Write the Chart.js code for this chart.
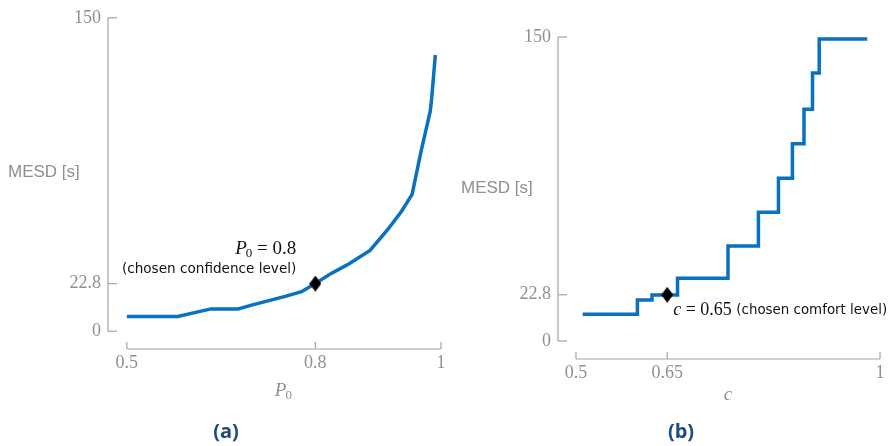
<!DOCTYPE html>
<html><head><meta charset="utf-8">
<script src="https://cdn.jsdelivr.net/npm/chart.js@4.4.1/dist/chart.umd.min.js"></script>
<style>
html,body{margin:0;padding:0;background:#fff;width:891px;height:446px;overflow:hidden;}
.box{position:absolute;top:0;height:446px;}
.cap{position:absolute;top:417px;font:bold 20px "Open Sans","Liberation Sans",sans-serif;color:#1d4a80;transform:translateX(-50%);}
</style></head>
<body>
<div class="box" style="left:0;width:450px;"><canvas id="ca"></canvas></div>
<div class="box" style="left:450px;width:441px;"><canvas id="cb"></canvas></div>
<div class="cap" style="left:226px;">(a)</div>
<div class="cap" style="left:681px;">(b)</div>
<script>
// ---- data (a) ----
const p0Values   = [0.5, 0.581, 0.634, 0.677, 0.700, 0.752, 0.778, 0.800, 0.826, 0.852, 0.887, 0.915, 0.937, 0.954, 0.968, 0.983, 0.985, 0.991];
const mesdA      = [7.1, 7.1, 10.7, 10.7, 12.6, 16.7, 18.9, 22.8, 27.8, 32.0, 38.7, 48.6, 57.3, 65.5, 85.7, 105.4, 110.9, 132.2];
const chosenA    = {x: 0.8, y: 22.8};
const xTicksA    = [0.5, 0.8, 1];
const xTickLabelsA = ['0.5', '0.8', '1'];
// ---- data (b) ----
const cValues    = [0.511, 0.601, 0.625, 0.667, 0.750, 0.800, 0.833, 0.856, 0.875, 0.889, 0.900, 0.979];
const mesdB      = [13.2, 20.2, 22.7, 31.0, 46.9, 63.5, 80.3, 97.3, 114.4, 132.2, 149, 149];
const chosenB    = {x: 0.65, y: 22.8};
const xTicksB    = [0.5, 0.65, 1];
const xTickLabelsB = ['0.5', '0.65', '1'];
// ---- shared y ticks ----
const yTicks      = [0, 22.8, 150];
const yTickLabels = ['0', '22.8', '150'];

const BLUE = '#0a70c0', GRAY = '#8f8f8f', AXIS = '#a3a3a3';
const SERIF = '"Liberation Serif","DejaVu Serif",serif';
const SANS = '"Liberation Sans","Open Sans",sans-serif';
const SANS2 = '"DejaVu Sans","Open Sans",sans-serif';

// elongated diamond marker
const dm = document.createElement('canvas');
dm.width = 12; dm.height = 16;
(function(){const g = dm.getContext('2d'); g.fillStyle = '#000'; g.beginPath();
 g.moveTo(6,0); g.lineTo(12,8); g.lineTo(6,16); g.lineTo(0,8); g.closePath(); g.fill();})();

function axesPlugin(opts){
  return {
    id: 'axesDeco',
    afterDraw(chart){
      const ctx = chart.ctx, xs = chart.scales.x, ys = chart.scales.y;
      ctx.save();
      ctx.strokeStyle = AXIS; ctx.lineWidth = 1.2;
      const ax = chart.chartArea.left, ay = chart.chartArea.bottom;
      const y0 = ys.getPixelForValue(yTicks[0]), y1 = ys.getPixelForValue(yTicks[yTicks.length-1]);
      ctx.beginPath(); ctx.moveTo(ax, y0); ctx.lineTo(ax, y1); ctx.stroke();
      yTicks.forEach(v => { const p = ys.getPixelForValue(v); ctx.beginPath(); ctx.moveTo(ax, p); ctx.lineTo(ax+9, p); ctx.stroke(); });
      const xt = opts.xTicks;
      const x0 = xs.getPixelForValue(xt[0]), x1 = xs.getPixelForValue(xt[xt.length-1]);
      ctx.beginPath(); ctx.moveTo(x0, ay); ctx.lineTo(x1, ay); ctx.stroke();
      xt.forEach(v => { const p = xs.getPixelForValue(v); ctx.beginPath(); ctx.moveTo(p, ay); ctx.lineTo(p, ay-7); ctx.stroke(); });
      // y title (horizontal)
      ctx.fillStyle = GRAY; ctx.font = '17px ' + SANS; ctx.textBaseline = 'middle'; ctx.textAlign = 'left';
      ctx.fillText('MESD [s]', opts.yTitleX, opts.yTitleY);
      // x title
      const xc = (x0 + x1) / 2 + opts.xTitleDx;
      ctx.font = 'italic 19px ' + SERIF;
      const wP = ctx.measureText(opts.xTitle).width;
      let w0 = 0;
      if (opts.sub) { ctx.font = '13px ' + SERIF; w0 = ctx.measureText(opts.sub).width; }
      const sx = xc - (wP + w0) / 2;
      ctx.textAlign = 'left';
      ctx.font = 'italic 19px ' + SERIF; ctx.fillText(opts.xTitle, sx, opts.xTitleY);
      if (opts.sub) { ctx.font = '13px ' + SERIF; ctx.fillText(opts.sub, sx + wP - 1, opts.xTitleY + 5); }
      // annotation
      const mx = xs.getPixelForValue(opts.chosen.x), my = ys.getPixelForValue(opts.chosen.y);
      opts.annotate(ctx, mx, my);
      ctx.restore();
    }
  };
}

function makeChart(id, xs, ys, chosen, xTicks, xLabels, xmin, ymin, pad, plug){
  return new Chart(document.getElementById(id), {
    type: 'line',
    data: { datasets: [
      { data: xs.map((x,i)=>({x, y: ys[i]})), borderColor: BLUE, borderWidth: 3.5, pointRadius: 0,
        stepped: plug.stepped ? 'before' : false, tension: 0, order: 2 },
      { data: [chosen], pointStyle: dm, pointRadius: 8, showLine: false, order: 1 }
    ]},
    options: {
      responsive: true, maintainAspectRatio: false, animation: false,
      events: [],
      layout: { padding: pad },
      plugins: { legend: {display:false}, tooltip: {enabled:false} },
      scales: {
        x: { type: 'linear', min: xmin, max: 1,
             grid: {display:false, drawTicks:false}, border: {display:false},
             afterBuildTicks: s => { s.ticks = xTicks.map(v => ({value: v})); },
             afterFit: s => { s.height = pad.xh; },
             ticks: { color: GRAY, font: {family: SERIF, size: 18}, padding: 3, maxRotation: 0, autoSkip: false,
                      callback: (v) => xLabels[xTicks.indexOf(v)] } },
        y: { type: 'linear', min: ymin, max: 150,
             grid: {display:false, drawTicks:false}, border: {display:false},
             afterBuildTicks: s => { s.ticks = yTicks.map(v => ({value: v})); },
             afterFit: s => { s.width = pad.yw; },
             ticks: { color: GRAY, font: {family: SERIF, size: 18}, padding: 7, autoSkip: false,
                      callback: (v) => yTickLabels[yTicks.indexOf(v)] } }
      }
    },
    plugins: [axesPlugin(plug)]
  });
}

makeChart('ca', p0Values, mesdA, chosenA, xTicksA, xTickLabelsA, 0.47, -8.5,
  {left:0, top:14, right:6, bottom:0, xh:97, yw:108},
  { xTicks: xTicksA, chosen: chosenA, yTitleX: 8, yTitleY: 172, xTitle: 'P', sub: '0', xTitleDx: 0, xTitleY: 391,
    annotate(ctx, mx, my){
      ctx.fillStyle = '#111'; ctx.textAlign = 'right'; ctx.textBaseline = 'middle';
      ctx.font = '13.6px ' + SANS2;
      ctx.fillText('(chosen confidence level)', mx - 19, my - 14);
      ctx.font = '19px ' + SERIF;
      const t = ' = 0.8'; const wt = ctx.measureText(t).width;
      ctx.fillText(t, mx - 19, my - 35);
      ctx.font = '13px ' + SERIF; ctx.fillText('0', mx - 19 - wt, my - 30);
      const w0 = ctx.measureText('0').width;
      ctx.font = 'italic 19px ' + SERIF; ctx.fillText('P', mx - 19 - wt - w0 + 1, my - 35);
    } });

makeChart('cb', cValues, mesdB, chosenB, xTicksB, xTickLabelsB, 0.4704, -8.9,
  {left:0, top:37, right:11, bottom:0, xh:87, yw:108},
  { stepped: true, xTicks: xTicksB, chosen: chosenB, yTitleX: 11, yTitleY: 188, xTitle: 'c', sub: null, xTitleDx: 0, xTitleY: 395,
    annotate(ctx, mx, my){
      ctx.fillStyle = '#111'; ctx.textAlign = 'left'; ctx.textBaseline = 'middle';
      let x = mx + 6; const y = my + 16;
      ctx.font = 'italic 18px ' + SERIF; ctx.fillText('c', x, y); x += ctx.measureText('c').width;
      ctx.font = '18px ' + SERIF; ctx.fillText(' = 0.65 ', x, y); x += ctx.measureText(' = 0.65 ').width;
      ctx.font = '13.4px ' + SANS2; ctx.fillText('(chosen comfort level)', x, y);
    } });
</script>
</body></html>
